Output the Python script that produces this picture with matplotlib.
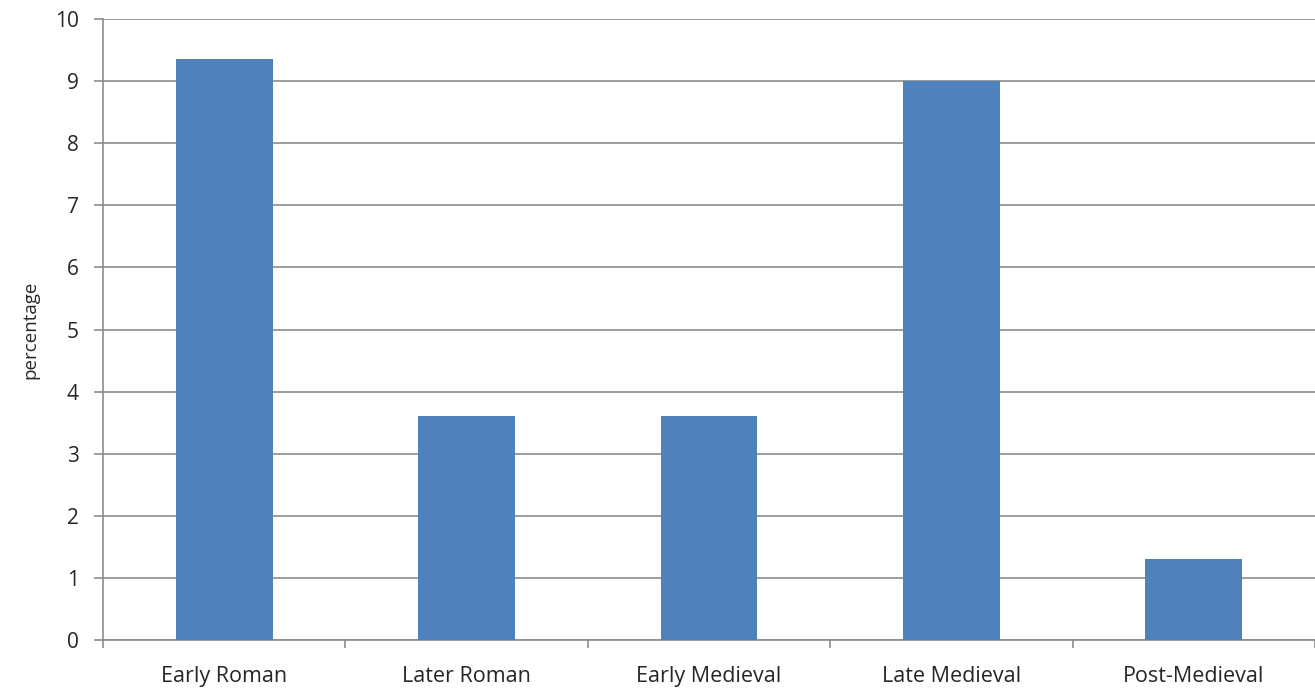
import matplotlib
matplotlib.use("Agg")
import matplotlib.pyplot as plt
import numpy as np

categories = ["Early Roman", "Later Roman", "Early Medieval", "Late Medieval", "Post-Medieval"]
values = [9.35, 3.6, 3.6, 9.0, 1.3]
yticks = list(range(0, 11))

plt.rcParams['font.family'] = ['Open Sans', 'DejaVu Sans']

fig = plt.figure(figsize=(13.15, 6.95), dpi=100)
ax = fig.add_axes([103/1315, 1-640/695, 1-103/1315, (640-19)/695])

x = np.arange(len(categories))
ax.bar(x, values, width=0.4, color="#4F81BD", zorder=3)

ax.set_xlim(-0.5, len(categories) - 0.5)
ax.set_ylim(0, 10)
ax.set_yticks(yticks)
ax.set_yticklabels([str(t) for t in yticks], fontsize=15, color="#262626")
ax.yaxis.grid(True, color="#8c8c8c", linewidth=1.2, zorder=0)
ax.set_axisbelow(True)

ax.set_xticks(x)
ax.set_xticklabels(categories, fontsize=15.5, color="#262626")
ax.tick_params(axis='x', which='major', length=0, pad=19)
ax.set_xticks(np.arange(-0.5, len(categories), 1.0), minor=True)
ax.tick_params(axis='x', which='minor', length=6, color="#8c8c8c", width=1.2)
ax.tick_params(axis='y', length=6.5, color="#8c8c8c", width=1.2, pad=11)

for s in ["top", "right"]:
    ax.spines[s].set_visible(False)
for s in ["left", "bottom"]:
    ax.spines[s].set_color("#8c8c8c")
    ax.spines[s].set_linewidth(1.2)

ax.set_ylabel("percentage", fontsize=13.5, color="#262626", labelpad=11)

fig.savefig("out.png", dpi=100)
